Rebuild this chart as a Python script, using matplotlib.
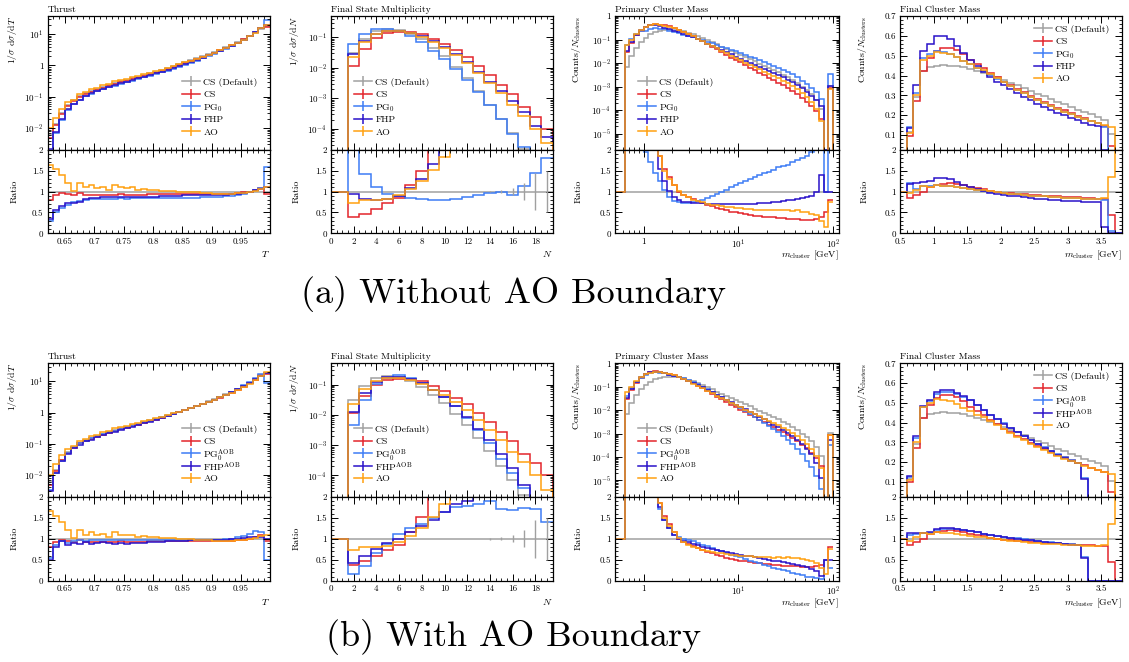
import numpy as np
import matplotlib
matplotlib.use('Agg')
import matplotlib.pyplot as plt
from matplotlib.ticker import MultipleLocator, LogLocator, FuncFormatter, NullFormatter

plt.rcParams['font.family'] = 'serif'
plt.rcParams['font.serif'] = ['cmr10']
plt.rcParams['mathtext.fontset'] = 'cm'
plt.rcParams['axes.unicode_minus'] = False
plt.rcParams['axes.formatter.use_mathtext'] = True

# ---- Thrust: default histogram + ratios to default (bins of 0.01 from 0.62 to 1.0)
thrust_edges = np.linspace(0.62, 1.0, 39)
thrust_default = [0.006, 0.014, 0.03, 0.055, 0.08, 0.105, 0.13, 0.155, 0.18, 0.21,
                  0.24, 0.27, 0.31, 0.35, 0.39, 0.44, 0.5, 0.56, 0.63, 0.72,
                  0.82, 0.94, 1.08, 1.25, 1.45, 1.68, 1.95, 2.3, 2.7, 3.2,
                  3.8, 4.6, 5.6, 6.9, 8.6, 11.0, 14.5, 18.0]
thrust_r_cs = [0.8, 0.92, 0.97, 0.95, 0.93, 0.97, 0.93, 0.93, 0.92, 0.93,
               0.93, 0.93, 0.94, 0.93, 0.93, 0.93, 0.93, 0.94, 0.94, 0.94,
               0.94, 0.94, 0.94, 0.94, 0.94, 0.94, 0.94, 0.94, 0.94, 0.94,
               0.94, 0.95, 0.96, 0.98, 1.0, 1.03, 1.08, 0.95]
thrust_r_pg0 = [0.3, 0.5, 0.6, 0.68, 0.75, 0.78, 0.8, 0.82, 0.82, 0.83,
                0.83, 0.83, 0.84, 0.83, 0.84, 0.84, 0.84, 0.84, 0.84, 0.84,
                0.84, 0.84, 0.85, 0.85, 0.85, 0.85, 0.86, 0.86, 0.87, 0.88,
                0.89, 0.9, 0.92, 0.95, 0.98, 1.03, 1.08, 1.6]
thrust_r_fhp = [0.35, 0.55, 0.65, 0.72, 0.72, 0.75, 0.82, 0.85, 0.85, 0.86,
                0.86, 0.86, 0.87, 0.87, 0.87, 0.88, 0.88, 0.88, 0.88, 0.89,
                0.89, 0.9, 0.9, 0.91, 0.91, 0.92, 0.92, 0.93, 0.93, 0.93,
                0.93, 0.94, 0.95, 0.97, 1.0, 1.03, 1.07, 1.1]
thrust_r_ao = [1.65, 1.55, 1.4, 1.2, 1.02, 1.2, 1.1, 1.15, 1.08, 1.12,
               1.05, 1.15, 1.1, 1.08, 1.1, 1.05, 1.06, 1.04, 1.03, 1.02,
               1.02, 1.01, 1.0, 1.0, 0.99, 0.98, 0.97, 0.96, 0.95, 0.95,
               0.95, 0.95, 0.96, 0.97, 0.99, 1.02, 1.06, 1.1]
thrust_r_pg0_aob = [0.55, 0.85, 0.95, 0.9, 0.95, 0.97, 0.95, 0.97, 0.97, 0.97,
                    0.98, 0.97, 0.98, 0.98, 0.98, 0.98, 0.98, 0.98, 0.98, 0.98,
                    0.98, 0.98, 0.98, 0.98, 0.97, 0.97, 0.97, 0.97, 0.97, 0.98,
                    0.99, 1.0, 1.03, 1.07, 1.12, 1.18, 1.15, 0.5]
thrust_r_fhp_aob = [0.5, 0.8, 0.95, 0.85, 0.9, 0.88, 0.92, 0.88, 0.9, 0.92,
                    0.9, 0.88, 0.9, 0.88, 0.9, 0.9, 0.9, 0.92, 0.92, 0.93,
                    0.94, 0.94, 0.95, 0.95, 0.96, 0.96, 0.97, 0.97, 0.97, 0.97,
                    0.98, 0.99, 1.0, 1.02, 1.03, 1.05, 1.05, 1.0]

# ---- Final state multiplicity, N = 2 .. 19
fsm_edges = np.arange(1.5, 20.0, 1.0)
fsm_default = [0.03, 0.09, 0.165, 0.19, 0.18, 0.13, 0.085, 0.045, 0.024, 0.011,
               0.0045, 0.0017, 6.2e-4, 2.1e-4, 7e-5, 2.2e-5, 8e-6, 3e-6]
fsm_default_relerr = [0, 0, 0, 0, 0, 0, 0, 0, 0, 0,
                      0, 0, 0.02, 0.04, 0.08, 0.2, 0.45, 0.5]
fsm_cs = [0.0114, 0.042, 0.096, 0.137, 0.153, 0.15, 0.128, 0.09, 0.06, 0.037,
          0.022, 0.0115, 0.0056, 0.0028, 0.0014, 5.2e-4, 2.5e-4, 1.0e-4]
fsm_pg0 = [0.0615, 0.128, 0.1815, 0.1805, 0.162, 0.1105, 0.0697, 0.0365, 0.0194, 0.00913,
           0.00392, 0.00158, 6.0e-4, 2.1e-4, 6.5e-5, 2.5e-5, 1.16e-5, 5.4e-6]
fsm_fhp = [0.028, 0.075, 0.13, 0.155, 0.16, 0.14, 0.11, 0.075, 0.048, 0.029,
           0.015, 0.0075, 0.0035, 0.0017, 8e-4, 3.5e-4, 1.25e-4, 5.3e-5]
fsm_ao = [0.022, 0.072, 0.132, 0.158, 0.166, 0.137, 0.106, 0.068, 0.044, 0.026,
          0.014, 0.0068, 0.0032, 0.00145, 6.0e-4, 2.7e-4, 1.0e-4, 3.3e-5]
fsm_pg0_aob = [0.0045, 0.0315, 0.107, 0.167, 0.2, 0.163, 0.115, 0.0675, 0.039, 0.0193,
               0.008, 0.0031, 0.00117, 3.6e-4, 1.18e-4, 3.8e-5, 1.36e-5, 4.2e-6]
fsm_fhp_aob = [0.0126, 0.054, 0.124, 0.171, 0.18, 0.15, 0.11, 0.065, 0.039, 0.02,
               0.0085, 0.0035, 0.00145, 5.0e-4, 1.8e-4, 4.8e-5, 1.8e-5, 1.8e-5]

# ---- Primary cluster mass: default + ratios (log bins, 0.05 decades from 10^-0.2 to 10^2)
pcm_edges = np.logspace(-0.2, 2.0, 45)
pcm_default = [0.007, 0.02, 0.045, 0.08, 0.12, 0.165, 0.205, 0.235, 0.255, 0.265,
               0.265, 0.25, 0.225, 0.197, 0.168, 0.14, 0.116, 0.095, 0.077, 0.062,
               0.05, 0.041, 0.033, 0.027, 0.022, 0.0178, 0.0145, 0.0117, 0.0095, 0.0077,
               0.0062, 0.005, 0.004, 0.0032, 0.0025, 0.0019, 0.0014, 0.001, 7e-4, 4.6e-4,
               2.6e-4, 1.1e-4, 2e-6, 1.1e-3]
pcm_r_cs = [4.3, 3.5, 3.3, 3.0, 2.8, 2.5, 2.2, 1.85, 1.55, 1.35,
            1.17, 1.0, 0.93, 0.87, 0.82, 0.77, 0.73, 0.69, 0.65, 0.61,
            0.58, 0.55, 0.52, 0.5, 0.48, 0.46, 0.44, 0.42, 0.41, 0.4,
            0.39, 0.38, 0.37, 0.36, 0.35, 0.35, 0.34, 0.33, 0.33, 0.33,
            0.35, 0.38, 0.5, 0.8]
pcm_r_pg0 = [8.5, 5.5, 4.0, 2.8, 1.95, 1.7, 1.45, 1.25, 1.05, 0.88,
             0.78, 0.74, 0.72, 0.72, 0.74, 0.77, 0.81, 0.85, 0.9, 0.95,
             1.0, 1.05, 1.1, 1.15, 1.2, 1.25, 1.3, 1.35, 1.4, 1.45,
             1.48, 1.53, 1.58, 1.62, 1.65, 1.72, 1.75, 1.8, 1.85, 1.95,
             2.3, 2.8, 1.0, 3.0]
pcm_r_fhp = [4.5, 4.0, 3.5, 3.2, 2.9, 2.5, 2.0, 1.55, 1.25, 1.02,
             0.88, 0.8, 0.76, 0.74, 0.73, 0.72, 0.72, 0.71, 0.71, 0.7,
             0.7, 0.7, 0.7, 0.7, 0.7, 0.7, 0.71, 0.71, 0.72, 0.72,
             0.73, 0.74, 0.76, 0.77, 0.79, 0.81, 0.83, 0.85, 0.87, 0.9,
             1.0, 1.4, 1.0, 1.0]
pcm_r_ao = [8.5, 5.0, 3.8, 3.2, 2.8, 2.45, 2.15, 1.85, 1.5, 1.3,
            1.15, 1.02, 0.92, 0.86, 0.81, 0.77, 0.74, 0.71, 0.69, 0.67,
            0.65, 0.63, 0.62, 0.61, 0.6, 0.59, 0.58, 0.57, 0.57, 0.56,
            0.56, 0.55, 0.56, 0.55, 0.57, 0.54, 0.55, 0.51, 0.5, 0.47,
            0.43, 0.3, 0.15, 0.75]
pcm_r_pg0_aob = [6.0, 4.5, 3.6, 3.0, 2.6, 2.3, 2.0, 1.7, 1.45, 1.25,
                 1.1, 1.03, 1.0, 0.97, 0.94, 0.9, 0.86, 0.82, 0.78, 0.74,
                 0.7, 0.66, 0.62, 0.59, 0.56, 0.52, 0.48, 0.45, 0.41, 0.38,
                 0.35, 0.31, 0.28, 0.25, 0.22, 0.19, 0.16, 0.13, 0.1, 0.08,
                 0.06, 0.04, 0.5, 0.3]
pcm_r_fhp_aob = [4.5, 4.0, 3.5, 3.1, 2.8, 2.5, 2.1, 1.75, 1.45, 1.25,
                 1.1, 1.0, 0.95, 0.91, 0.87, 0.84, 0.81, 0.78, 0.75, 0.73,
                 0.7, 0.68, 0.66, 0.64, 0.62, 0.6, 0.58, 0.56, 0.54, 0.52,
                 0.5, 0.48, 0.46, 0.44, 0.42, 0.4, 0.38, 0.35, 0.32, 0.28,
                 0.22, 0.12, 0.5, 0.5]

# ---- Final cluster mass, bins of 0.1 GeV from 0.6 to 3.8
fcm_edges = np.linspace(0.6, 3.8, 33)
fcm_default = [0.115, 0.29, 0.425, 0.445, 0.45, 0.452, 0.45, 0.447, 0.441, 0.434,
               0.425, 0.415, 0.404, 0.392, 0.379, 0.365, 0.351, 0.337, 0.323, 0.309,
               0.295, 0.281, 0.268, 0.255, 0.242, 0.229, 0.217, 0.205, 0.193, 0.178,
               0.105, 0.004]
fcm_cs = [0.097, 0.27, 0.425, 0.49, 0.525, 0.54, 0.54, 0.528, 0.508, 0.478,
          0.458, 0.438, 0.415, 0.393, 0.37, 0.35, 0.332, 0.315, 0.298, 0.282,
          0.267, 0.252, 0.238, 0.224, 0.21, 0.197, 0.185, 0.172, 0.16, 0.148,
          0.047, 0.0]
fcm_pg0 = [0.14, 0.31, 0.487, 0.508, 0.522, 0.517, 0.508, 0.495, 0.475, 0.458,
           0.44, 0.425, 0.405, 0.385, 0.366, 0.347, 0.328, 0.31, 0.293, 0.277,
           0.261, 0.246, 0.232, 0.218, 0.205, 0.193, 0.181, 0.17, 0.159, 0.142,
           0.005, 0.0]
fcm_fhp = [0.135, 0.35, 0.525, 0.558, 0.6, 0.597, 0.583, 0.55, 0.512, 0.478,
           0.45, 0.417, 0.392, 0.37, 0.35, 0.33, 0.312, 0.292, 0.275, 0.258,
           0.242, 0.228, 0.213, 0.2, 0.188, 0.175, 0.163, 0.153, 0.145, 0.027,
           0.0, 0.0]
fcm_ao = [0.11, 0.3, 0.48, 0.5, 0.517, 0.512, 0.508, 0.492, 0.475, 0.458,
          0.44, 0.428, 0.408, 0.387, 0.367, 0.347, 0.328, 0.31, 0.293, 0.277,
          0.261, 0.246, 0.232, 0.218, 0.205, 0.193, 0.181, 0.17, 0.16, 0.15,
          0.142, 0.01]
fcm_pg0_aob = [0.125, 0.32, 0.48, 0.51, 0.545, 0.553, 0.555, 0.545, 0.53, 0.512,
               0.49, 0.465, 0.44, 0.42, 0.397, 0.375, 0.353, 0.333, 0.313, 0.293,
               0.275, 0.258, 0.241, 0.225, 0.21, 0.196, 0.12, 0.0, 0.0, 0.0,
               0.0, 0.0]
fcm_fhp_aob = [0.13, 0.33, 0.486, 0.516, 0.553, 0.564, 0.564, 0.55, 0.535, 0.515,
               0.49, 0.465, 0.44, 0.42, 0.395, 0.372, 0.35, 0.33, 0.31, 0.29,
               0.272, 0.255, 0.238, 0.222, 0.207, 0.193, 0.115, 0.0, 0.0, 0.0,
               0.0, 0.0]

labels_a = ['CS (Default)', 'CS', r'PG$_0$', 'FHP', 'AO']
labels_b = ['CS (Default)', 'CS', r'PG$_0^{\rm AOB}$', r'FHP$^{\rm AOB}$', 'AO']
colors = ['#a0a0a0', '#e3242b', '#3d7cf5', '#2a12c9', '#ffa010']

W, H = 1129, 662
fig = plt.figure(figsize=(W / 100, H / 100), dpi=100)

cols = [(47.5, 269.5), (331, 552.5), (615, 838.5), (900, 1121.5)]
rows = [(16, 150, 233.3), (363.3, 496.7, 580.7)]
ylab_x = [-0.13, -0.135, -0.143, -0.14]


def frac(x0, x1, y0, y1):
    return [x0 / W, 1 - y1 / H, (x1 - x0) / W, (y1 - y0) / H]


def log_fmt(v, pos):
    e = int(round(np.log10(v)))
    return '1' if e == 0 else r'$10^{%d}$' % e


def plain_fmt(v, pos):
    return '%g' % round(v, 3)


def style(ax):
    ax.tick_params(which='both', direction='in', top=True, right=True, labelsize=6.5, pad=3)
    ax.tick_params(which='major', length=5, width=0.7)
    ax.tick_params(which='minor', length=2.5, width=0.6)
    for s in ax.spines.values():
        s.set_linewidth(0.9)


def key(ax, labels, x, y):
    # legend drawn by hand so that every row has the same height
    step = 12.5 / 134
    for i, (lab, c) in enumerate(zip(labels, colors)):
        yy = y - i * step
        ax.plot([x, x + 0.082], [yy, yy], color=c, lw=1.1, transform=ax.transAxes, clip_on=False)
        ax.plot([x + 0.041], [yy], color=c, marker='|', markersize=7, mew=1.1,
                transform=ax.transAxes, clip_on=False)
        ax.text(x + 0.096, yy, lab, transform=ax.transAxes, fontsize=7,
                ha='left', va='center_baseline')


def panel(col, row, title, edges, main, r_edges, ratios, xlog, ylog, xlim, ylim,
          xticks, yticks, xlabel, ylabel, labels, leg_xy, baseline):
    x0, x1 = cols[col]
    top, mid, bot = rows[row]
    ax = fig.add_axes(frac(x0, x1, top, mid))
    axr = fig.add_axes(frac(x0, x1, mid, bot))

    for v, c in zip(main, colors):
        ax.stairs(v, edges, baseline=baseline, color=c, lw=1.1)
    for r, c in zip(ratios, colors):
        axr.stairs(r, r_edges, baseline=None, color=c, lw=1.1)

    for a in (ax, axr):
        style(a)
        if xlog:
            a.set_xscale('log')
            a.xaxis.set_major_locator(LogLocator(base=10, numticks=20))
            a.xaxis.set_minor_locator(LogLocator(base=10, subs=np.arange(2, 10), numticks=20))
            a.xaxis.set_major_formatter(FuncFormatter(log_fmt))
            a.xaxis.set_minor_formatter(NullFormatter())
        else:
            a.xaxis.set_major_locator(MultipleLocator(xticks[0]))
            a.xaxis.set_minor_locator(MultipleLocator(xticks[1]))
            a.xaxis.set_major_formatter(FuncFormatter(plain_fmt))
        a.set_xlim(*xlim)

    if ylog:
        ax.set_yscale('log')
        ax.yaxis.set_major_locator(LogLocator(base=10, numticks=20))
        ax.yaxis.set_minor_locator(LogLocator(base=10, subs=np.arange(2, 10), numticks=20))
        ax.yaxis.set_major_formatter(FuncFormatter(log_fmt))
        ax.yaxis.set_minor_formatter(NullFormatter())
    else:
        ax.yaxis.set_major_locator(MultipleLocator(yticks[0]))
        ax.yaxis.set_minor_locator(MultipleLocator(yticks[1]))
        ax.yaxis.set_major_formatter(FuncFormatter(plain_fmt))
    ax.set_ylim(*ylim)
    ax.tick_params(labelbottom=False)

    axr.set_ylim(0, 2)
    axr.yaxis.set_major_locator(MultipleLocator(0.5))
    axr.yaxis.set_minor_locator(MultipleLocator(0.1))
    axr.yaxis.set_major_formatter(FuncFormatter(plain_fmt))

    ax.set_title(title, loc='left', fontsize=7, pad=3)
    ax.set_ylabel(ylabel, fontsize=7, loc='top')
    ax.yaxis.set_label_coords(ylab_x[col], 1.0)
    axr.set_ylabel('Ratio', fontsize=7)
    axr.yaxis.set_label_coords(ylab_x[col], 0.5)
    axr.set_xlabel(xlabel, fontsize=7, loc='right')
    axr.xaxis.set_label_coords(1.0, -0.19)

    key(ax, labels, *leg_xy)
    return ax, axr


thrust_ylab = r'$1/\sigma\ \mathrm{d}\sigma/\mathrm{d}T$'
fsm_ylab = r'$1/\sigma\ \mathrm{d}\sigma/\mathrm{d}N$'
mass_ylab = r'Counts$/N_{\mathrm{clusters}}$'
mass_xlab = r'$m_{\mathrm{cluster}}$ [GeV]'

for row, labels in ((0, labels_a), (1, labels_b)):
    if row == 0:
        t_r = [thrust_r_cs, thrust_r_pg0, thrust_r_fhp, thrust_r_ao]
        f_m = [fsm_default, fsm_cs, fsm_pg0, fsm_fhp, fsm_ao]
        p_r = [pcm_r_cs, pcm_r_pg0, pcm_r_fhp, pcm_r_ao]
        c_m = [fcm_default, fcm_cs, fcm_pg0, fcm_fhp, fcm_ao]
    else:
        t_r = [thrust_r_cs, thrust_r_pg0_aob, thrust_r_fhp_aob, thrust_r_ao]
        f_m = [fsm_default, fsm_cs, fsm_pg0_aob, fsm_fhp_aob, fsm_ao]
        p_r = [pcm_r_cs, pcm_r_pg0_aob, pcm_r_fhp_aob, pcm_r_ao]
        c_m = [fcm_default, fcm_cs, fcm_pg0_aob, fcm_fhp_aob, fcm_ao]

    # thrust
    t_def = np.array(thrust_default)
    t_ratios = [np.ones_like(t_def)] + [np.array(r) for r in t_r]
    t_main = [t_def * r for r in t_ratios]
    panel(0, row, 'Thrust', thrust_edges, t_main, thrust_edges, t_ratios, False, True,
          (0.62, 0.999), (2e-3, 38), (0.05, 0.01), None, '$T$', thrust_ylab, labels,
          (0.606, 0.512), None)

    # final state multiplicity
    f_def = np.array(fsm_default)
    f_main = [np.array(v) for v in f_m]
    f_ratios = [np.concatenate([[1.0], v / f_def]) for v in f_main]
    f_redges = np.concatenate([[0.0], fsm_edges])
    ax, axr = panel(1, row, 'Final State Multiplicity', fsm_edges, f_main, f_redges, f_ratios,
                    False, True, (0, 19.5), (2e-5, 0.5), (2, 0.5), None, '$N$', fsm_ylab,
                    labels, (0.104, 0.512), 1e-9)
    centers = 0.5 * (fsm_edges[:-1] + fsm_edges[1:])
    axr.errorbar(centers, np.ones_like(centers), yerr=fsm_default_relerr, fmt='none',
                 ecolor=colors[0], elinewidth=1.0, capsize=0)

    # primary cluster mass
    p_def = np.array(pcm_default)
    p_ratios = [np.ones_like(p_def)] + [np.array(r) for r in p_r]
    p_main = [p_def * r for r in p_ratios]
    p_ratios = [np.concatenate([[1.0], r]) for r in p_ratios]
    p_redges = np.concatenate([[0.5], pcm_edges])
    panel(2, row, 'Primary Cluster Mass', pcm_edges, p_main, p_redges, p_ratios, True, True,
          (0.5, 114), (2e-6, 1.0), None, None, mass_xlab, mass_ylab, labels,
          (0.103, 0.512), 1e-9)

    # final cluster mass
    c_def = np.array(fcm_default)
    c_main = [np.array(v) for v in c_m]
    c_ratios = [np.concatenate([[1.0], v / c_def]) for v in c_main]
    c_redges = np.concatenate([[0.5], fcm_edges])
    panel(3, row, 'Final Cluster Mass', fcm_edges, c_main, c_redges, c_ratios, False, False,
          (0.5, 3.8), (0.025, 0.7), (0.5, 0.1), (0.1, 0.02), mass_xlab, mass_ylab, labels,
          (0.605, 0.91), 0)

fig.text(0.455, 1 - 294 / H, '(a) Without AO Boundary', ha='center', va='center', fontsize=26)
fig.text(0.455, 1 - 637 / H, '(b) With AO Boundary', ha='center', va='center', fontsize=26)

fig.savefig('out.png', dpi=100)
